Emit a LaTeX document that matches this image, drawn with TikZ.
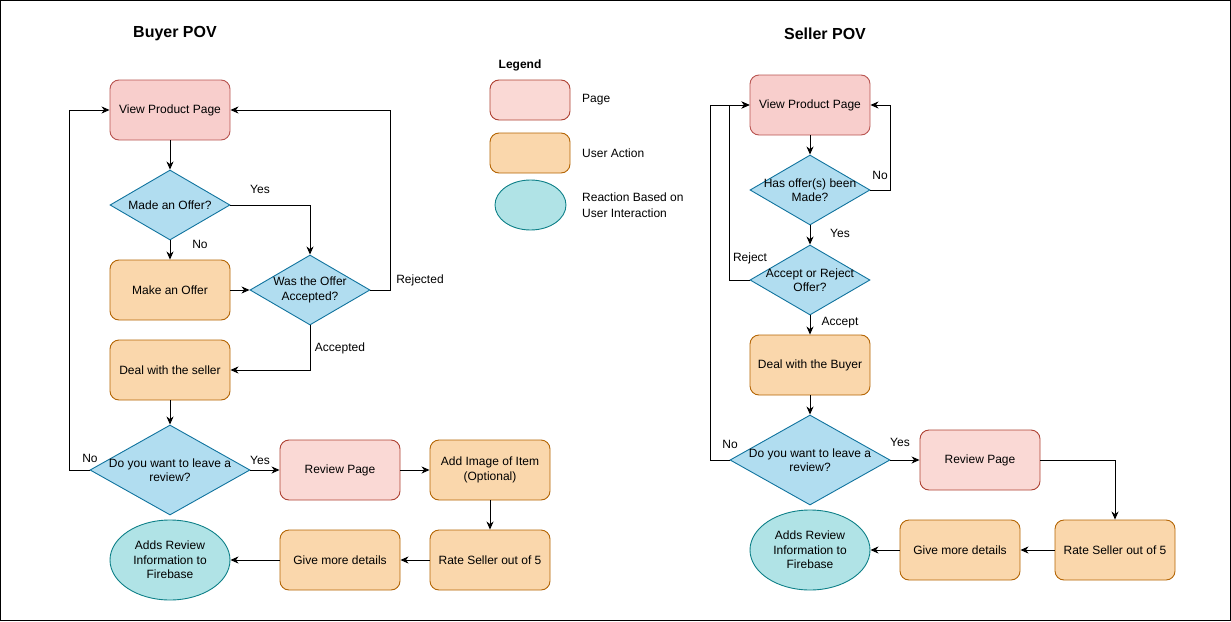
\documentclass[tikz,border=0pt]{standalone}
\usepackage{fontspec}
\setmainfont{Liberation Sans}
\usetikzlibrary{shapes.geometric,arrows.meta}
\definecolor{redF}{HTML}{F8CECC}\definecolor{redS}{HTML}{B85450}
\definecolor{red2F}{HTML}{FAD9D5}\definecolor{red2S}{HTML}{AE4132}
\definecolor{orF}{HTML}{FAD7AC}\definecolor{orS}{HTML}{B46504}
\definecolor{blF}{HTML}{B1DDF0}\definecolor{blS}{HTML}{10739E}
\definecolor{tlF}{HTML}{B0E3E6}\definecolor{tlS}{HTML}{0E8088}
\tikzset{
  base/.style={font=\fontsize{12}{14.5}\selectfont, align=center, line width=0.9pt},
  pagebox/.style={base, draw=redS, fill=redF, rounded corners=9pt, minimum width=120pt, minimum height=60pt, inner sep=0pt},
  pagebox2/.style={pagebox, draw=red2S, fill=red2F},
  actbox/.style={base, draw=orS, fill=orF, rounded corners=9pt, minimum width=120pt, minimum height=60pt, inner sep=0pt},
  decis/.style={base, shape=diamond, draw=blS, fill=blF, inner sep=0pt},
  react/.style={base, shape=ellipse, draw=tlS, fill=tlF, minimum width=120pt, minimum height=80pt, inner sep=0pt},
  lbl/.style={font=\fontsize{12}{14.5}\selectfont, inner sep=0pt},
  ttl/.style={font=\fontsize{16}{18}\selectfont\bfseries, inner sep=0pt},
  conn/.style={line width=0.9pt, -{Stealth[length=8pt,width=7pt,inset=2.5pt]}},
}
\begin{document}
\begin{tikzpicture}[x=1pt,y=-1pt]
\useasboundingbox (0,0) rectangle (1231,621);
\draw[line width=1.3pt] (0.8,0.8) rectangle (1230.2,620.2);

% titles
\node[ttl] (tb) at (175,34) {Buyer POV};
\node[ttl] (ts) at (825,34) {Seller POV};

% legend
\node[font=\fontsize{12}{14}\selectfont\bfseries, inner sep=0pt] (lg) at (520,65) {Legend};
\node[pagebox2, minimum width=80pt, minimum height=40pt] (lp) at (530,100) {};
\node[actbox, minimum width=80pt, minimum height=40pt] (la) at (530,153) {};
\node[react, minimum width=71pt, minimum height=50pt] (lr) at (530.5,205) {};
\node[lbl, anchor=west] (lpt) at (582,100) {Page};
\node[lbl, anchor=west] (lat) at (582,153) {User Action};
\node[lbl, anchor=west, align=left, font=\fontsize{12}{15.5}\selectfont] (lrt) at (582,205) {Reaction Based on\\User Interaction};

% ---------- Buyer ----------
\node[pagebox] (bvpp) at (170,110) {View Product Page};
\node[decis, minimum width=120pt, minimum height=70pt, label={[base]center:Made an Offer?}] (bmo) at (170,205) {};
\node[actbox] (bmk) at (170,290) {Make an Offer};
\node[decis, minimum width=120pt, minimum height=70pt, label={[base]center:Was the Offer\\Accepted?}] (bwas) at (310,290) {};
\node[actbox] (bdeal) at (170,370) {Deal with the seller};
\node[decis, minimum width=160pt, minimum height=90pt, label={[base]center:Do you want to leave a\\review?}] (brev) at (170,470) {};
\node[pagebox2] (brp) at (340,470) {Review Page};
\node[actbox] (bimg) at (490,470) {Add Image of Item\\(Optional)};
\node[actbox] (brate) at (490,560) {Rate Seller out of 5};
\node[actbox] (bgive) at (340,560) {Give more details};
\node[react] (bfb) at (170,560) {Adds Review\\Information to\\Firebase};

\draw[conn] (bvpp) -- (bmo);
\draw[conn] (bmo.east) -| (bwas.north);
\draw[conn] (bmo) -- (bmk);
\draw[conn] (bmk) -- (bwas);
\draw[conn] (bwas.east) -- ++(20,0) |- (bvpp.east);
\draw[conn] (bwas.south) |- (bdeal.east);
\draw[conn] (bdeal) -- (brev);
\draw[conn] (brev.west) -- ++(-20,0) |- (bvpp.west);
\draw[conn] (brev.east) -- (brp.west);
\draw[conn] (brp) -- (bimg);
\draw[conn] (bimg) -- (brate);
\draw[conn] (brate) -- (bgive);
\draw[conn] (bgive) -- (bfb);

\node[lbl] (lyes1) at (260,189) {Yes};
\node[lbl] (lno1) at (200,244) {No};
\node[lbl] (lrej) at (420,280) {Rejected};
\node[lbl] (lacc) at (340,348) {Accepted};
\node[lbl] (lno2) at (90,458) {No};
\node[lbl] (lyes2) at (260,460) {Yes};

% ---------- Seller ----------
\node[pagebox] (svpp) at (810,105) {View Product Page};
\node[decis, minimum width=120pt, minimum height=70pt, label={[base]center:Has offer(s) been\\Made?}] (shas) at (810,190) {};
\node[decis, minimum width=120pt, minimum height=70pt, label={[base]center:Accept or Reject\\Offer?}] (sacc) at (810,280) {};
\node[actbox] (sdeal) at (810,365) {Deal with the Buyer};
\node[decis, minimum width=160pt, minimum height=90pt, label={[base]center:Do you want to leave a\\review?}] (srev) at (810,460) {};
\node[pagebox2] (srp) at (980,460) {Review Page};
\node[actbox] (srate) at (1115,550) {Rate Seller out of 5};
\node[actbox] (sgive) at (960,550) {Give more details};
\node[react] (sfb) at (810,550) {Adds Review\\Information to\\Firebase};

\draw[conn] (svpp) -- (shas);
\draw[conn] (shas.east) -- ++(20,0) |- (svpp.east);
\draw[conn] (shas) -- (sacc);
\draw[conn] (sacc.west) -- ++(-20,0) |- (svpp.west);
\draw[conn] (sacc) -- (sdeal);
\draw[conn] (sdeal) -- (srev);
\draw[conn] (srev.west) -- ++(-19,0) |- (svpp.west);
\draw[conn] (srev.east) -- (srp.west);
\draw[conn] (srp.east) -| (srate.north);
\draw[conn] (srate) -- (sgive);
\draw[conn] (sgive) -- (sfb);

\node[lbl] (sno1) at (880,175) {No};
\node[lbl] (syes1) at (840,233) {Yes};
\node[lbl] (srej) at (750,258) {Reject};
\node[lbl] (sacl) at (840,323) {Accept};
\node[lbl] (sno2) at (730,444) {No};
\node[lbl] (syes2) at (900,442) {Yes};
\end{tikzpicture}
\end{document}
